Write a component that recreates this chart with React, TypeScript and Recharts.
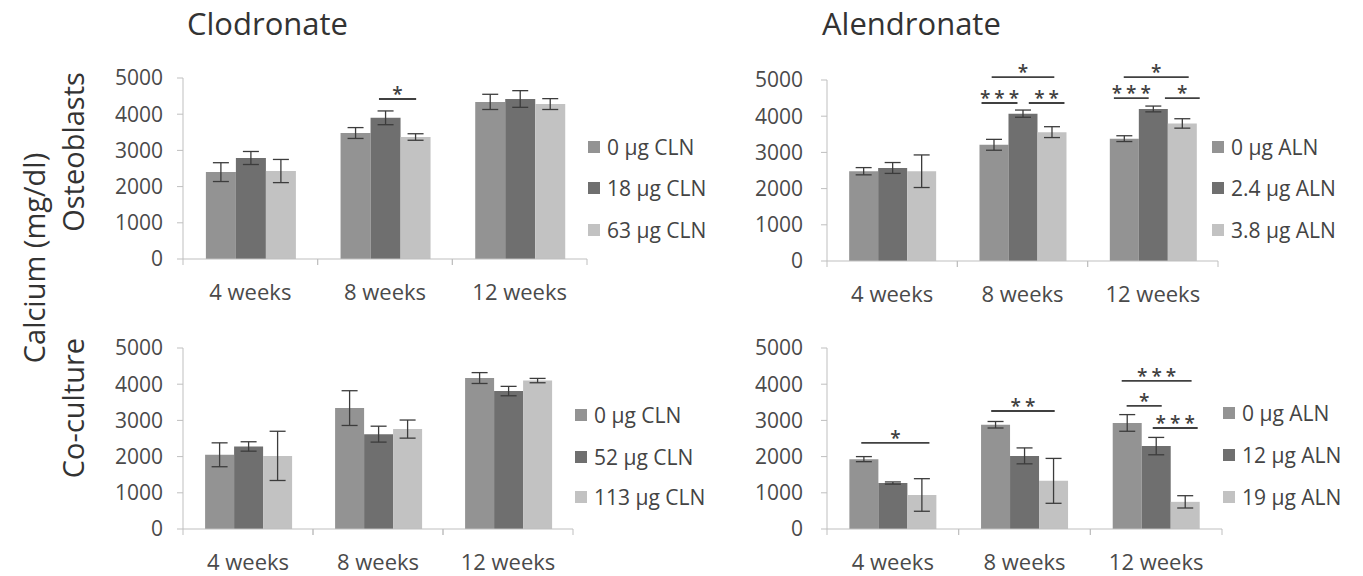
import React from "react";
import { Bar, BarChart, ErrorBar, Rectangle, XAxis, YAxis } from "recharts";

const weeks = ["4 weeks", "8 weeks", "12 weeks"];
const yTicks = [0, 1000, 2000, 3000, 4000, 5000];
const barColors = ["#939393", "#6f6f6f", "#c2c2c2"];

// Clodronate, osteoblasts
const clnOstLabels = ["0 µg CLN", "18 µg CLN", "63 µg CLN"];
const clnOstMeans = [
  [2400, 3480, 4340],
  [2790, 3900, 4420],
  [2430, 3370, 4280],
];
const clnOstErrors = [
  [260, 150, 210],
  [180, 190, 230],
  [320, 90, 150],
];

// Alendronate, osteoblasts
const alnOstLabels = ["0 µg ALN", "2.4 µg ALN", "3.8 µg ALN"];
const alnOstMeans = [
  [2480, 3210, 3380],
  [2570, 4070, 4200],
  [2480, 3560, 3800],
];
const alnOstErrors = [
  [100, 150, 80],
  [150, 100, 80],
  [450, 150, 130],
];

// Clodronate, co-culture
const clnCoLabels = ["0 µg CLN", "52 µg CLN", "113 µg CLN"];
const clnCoMeans = [
  [2050, 3340, 4170],
  [2280, 2620, 3810],
  [2020, 2760, 4100],
];
const clnCoErrors = [
  [330, 480, 150],
  [130, 220, 130],
  [680, 250, 60],
];

// Alendronate, co-culture
const alnCoLabels = ["0 µg ALN", "12 µg ALN", "19 µg ALN"];
const alnCoMeans = [
  [1930, 2880, 2930],
  [1270, 2020, 2290],
  [940, 1330, 750],
];
const alnCoErrors = [
  [70, 90, 230],
  [30, 220, 240],
  [450, 620, 170],
];

// significance brackets: week, span in bar widths from the group's left edge, height in mg/dl
type Bracket = { week: string; from: number; to: number; level: number; label: string };

const clnOstBrackets: Bracket[] = [{ week: "8 weeks", from: 1.28, to: 2.52, level: 4420, label: "*" }];
const alnOstBrackets: Bracket[] = [
  { week: "8 weeks", from: 0.07, to: 1.31, level: 4365, label: "***" },
  { week: "8 weeks", from: 1.7, to: 2.93, level: 4365, label: "**" },
  { week: "8 weeks", from: 0.42, to: 2.58, level: 5080, label: "*" },
  { week: "12 weeks", from: 0.14, to: 1.34, level: 4500, label: "***" },
  { week: "12 weeks", from: 1.9, to: 3.1, level: 4500, label: "*" },
  { week: "12 weeks", from: 0.48, to: 2.72, level: 5080, label: "*" },
];
const clnCoBrackets: Bracket[] = [];
const alnCoBrackets: Bracket[] = [
  { week: "4 weeks", from: 0.41, to: 2.76, level: 2380, label: "*" },
  { week: "8 weeks", from: 0.35, to: 2.54, level: 3260, label: "**" },
  { week: "12 weeks", from: 0.31, to: 2.72, level: 4090, label: "***" },
  { week: "12 weeks", from: 0.48, to: 1.69, level: 3400, label: "*" },
  { week: "12 weeks", from: 1.38, to: 2.93, level: 2790, label: "***" },
];

const font = "'Open Sans', sans-serif";
const axisColor = "#bfbfbf";
const textColor = "#4a4a4a";

type Plot = { left: number; right: number; top: number; bottom: number };

function WeekTick(props: any) {
  const { x, y, payload, half } = props;
  const h = payload.offset > 0 ? payload.offset : half;
  return (
    <g>
      <line x1={x - h} x2={x - h} y1={y} y2={y + 6} stroke={axisColor} />
      <line x1={x + h} x2={x + h} y1={y} y2={y + 6} stroke={axisColor} />
      <text x={x} y={y + 41} textAnchor="middle" fontSize={22} fill={textColor} fontFamily={font}>
        {payload.value}
      </text>
    </g>
  );
}

const bracketShape = (brackets: Bracket[]) => (props: any) => {
  const { x, y, width, height, fill, payload } = props;
  const base = y + height;
  const perUnit = height / payload.s0;
  return (
    <g>
      <Rectangle x={x} y={y} width={width} height={height} fill={fill} />
      {brackets
        .filter((b) => b.week === payload.week)
        .map((b, k) => {
          const ly = base - b.level * perUnit;
          return (
            <g key={k}>
              <line x1={x + b.from * width} x2={x + b.to * width} y1={ly} y2={ly} stroke="#404040" strokeWidth={1.8} />
              <text
                x={x + ((b.from + b.to) / 2) * width + 2}
                y={ly + 2}
                textAnchor="middle"
                fontSize={19}
                fontWeight={600}
                letterSpacing={4}
                fill="#404040"
                fontFamily={font}
              >
                {b.label}
              </text>
            </g>
          );
        })}
    </g>
  );
};

function Panel(props: {
  means: number[][];
  errors: number[][];
  brackets: Bracket[];
  plot: Plot;
  labelGap: number;
}) {
  const { means, errors, brackets, plot, labelGap } = props;
  const data = weeks.map((week, i) => ({
    week,
    s0: means[0][i],
    s1: means[1][i],
    s2: means[2][i],
    e0: errors[0][i],
    e1: errors[1][i],
    e2: errors[2][i],
  }));
  const yw = 90;
  const mt = 20;
  const xh = 50;
  const mr = 4;
  const width = plot.right - plot.left + yw + mr;
  const height = plot.bottom - plot.top + mt + xh;
  const half = (plot.right - plot.left) / weeks.length / 2;
  return (
    <div style={{ position: "absolute", left: plot.left - yw, top: plot.top - mt }}>
      <BarChart
        width={width}
        height={height}
        data={data}
        margin={{ top: mt, right: mr, bottom: 0, left: 0 }}
        barCategoryGap="17%"
        barGap={0}
      >
        <XAxis
          dataKey="week"
          height={xh}
          interval={0}
          tickLine={false}
          tickSize={0}
          tickMargin={0}
          axisLine={{ stroke: axisColor }}
          tick={(p: any) => <WeekTick {...p} half={half} />}
        />
        <YAxis
          width={yw}
          domain={[0, 5000]}
          ticks={yTicks}
          interval={0}
          axisLine={{ stroke: axisColor }}
          tickLine={{ stroke: axisColor }}
          tickSize={6}
          tickMargin={labelGap - 6}
          tick={{ fill: textColor, fontSize: 21, fontFamily: font }}
        />
        <Bar dataKey="s0" fill={barColors[0]} isAnimationActive={false} shape={bracketShape(brackets)}>
          <ErrorBar dataKey="e0" width={8} stroke="#3c3c3c" strokeWidth={1.3} isAnimationActive={false} />
        </Bar>
        <Bar dataKey="s1" fill={barColors[1]} isAnimationActive={false}>
          <ErrorBar dataKey="e1" width={8} stroke="#3c3c3c" strokeWidth={1.3} isAnimationActive={false} />
        </Bar>
        <Bar dataKey="s2" fill={barColors[2]} isAnimationActive={false}>
          <ErrorBar dataKey="e2" width={8} stroke="#3c3c3c" strokeWidth={1.3} isAnimationActive={false} />
        </Bar>
      </BarChart>
    </div>
  );
}

function Legend(props: { labels: string[]; left: number; rows: number[] }) {
  return (
    <>
      {props.labels.map((label, i) => (
        <div
          key={label}
          style={{
            position: "absolute",
            left: props.left,
            top: props.rows[i] - 12,
            height: 24,
            display: "flex",
            alignItems: "center",
            fontFamily: font,
            fontSize: 21,
            color: "#444",
            whiteSpace: "nowrap",
          }}
        >
          <span style={{ width: 12, height: 12, background: barColors[i], marginRight: 7, display: "inline-block" }} />
          {label}
        </div>
      ))}
    </>
  );
}

function VLabel(props: { text: string; cx: number; cy: number }) {
  return (
    <div
      style={{
        position: "absolute",
        left: props.cx,
        top: props.cy,
        transform: "translate(-50%, -50%) rotate(-90deg)",
        fontFamily: font,
        fontSize: 29,
        lineHeight: 1,
        color: "#333",
        whiteSpace: "nowrap",
      }}
    >
      {props.text}
    </div>
  );
}

export default function App() {
  return (
    <div
      style={{
        position: "absolute",
        left: 0,
        top: 0,
        width: 1363,
        height: 576,
        background: "#fff",
        overflow: "hidden",
      }}
    >
      <div style={{ position: "absolute", left: 187, top: 8, fontFamily: font, fontSize: 31, lineHeight: 1, color: "#333" }}>
        Clodronate
      </div>
      <div style={{ position: "absolute", left: 822, top: 8, fontFamily: font, fontSize: 31, lineHeight: 1, color: "#333" }}>
        Alendronate
      </div>
      <VLabel text="Calcium (mg/dl)" cx={33} cy={258} />
      <VLabel text="Osteoblasts" cx={72} cy={152} />
      <VLabel text="Co-culture" cx={72} cy={408} />

      <Panel means={clnOstMeans} errors={clnOstErrors} brackets={clnOstBrackets} plot={{ left: 183, right: 587, top: 78, bottom: 259 }} labelGap={20} />
      <Panel means={alnOstMeans} errors={alnOstErrors} brackets={alnOstBrackets} plot={{ left: 827, right: 1218, top: 80, bottom: 261 }} labelGap={24} />
      <Panel means={clnCoMeans} errors={clnCoErrors} brackets={clnCoBrackets} plot={{ left: 183, right: 573, top: 348, bottom: 529 }} labelGap={20} />
      <Panel means={alnCoMeans} errors={alnCoErrors} brackets={alnCoBrackets} plot={{ left: 827, right: 1222, top: 348, bottom: 529 }} labelGap={24} />

      <Legend labels={clnOstLabels} left={588} rows={[147, 188, 230]} />
      <Legend labels={alnOstLabels} left={1212} rows={[147, 188, 230]} />
      <Legend labels={clnCoLabels} left={575} rows={[415, 457, 497]} />
      <Legend labels={alnCoLabels} left={1223} rows={[413, 455, 497]} />
    </div>
  );
}
